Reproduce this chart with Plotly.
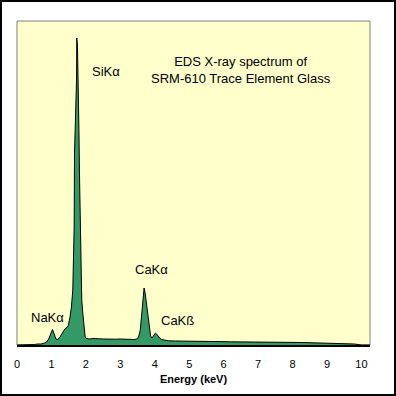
import plotly.graph_objects as go

# Energy (keV) and counts
energy = [0.00, 0.45, 0.50, 0.60, 0.70, 0.80, 0.86, 0.92, 0.98, 1.03, 1.08, 1.13, 1.18, 1.24,
          1.30, 1.36, 1.40, 1.45, 1.49, 1.54, 1.58, 1.62, 1.64, 1.66, 1.67, 1.70, 1.71, 1.73,
          1.735, 1.755, 1.765, 1.78, 1.80, 1.815, 1.83, 1.845, 1.86, 1.88, 1.91, 1.94, 1.98,
          2.02, 2.10, 2.20, 2.30, 2.40, 2.50, 2.60, 2.70, 2.80, 2.90, 3.00, 3.10, 3.20, 3.30,
          3.40, 3.48, 3.53, 3.58, 3.62, 3.66, 3.69, 3.72, 3.75, 3.77, 3.80, 3.84, 3.88, 3.92,
          3.97, 4.02, 4.05, 4.10, 4.14, 4.20, 4.25, 4.40, 4.60, 4.80, 5.00, 5.30, 5.60, 5.90,
          6.20, 6.50, 6.80, 7.10, 7.40, 7.70, 8.00, 8.30, 8.60, 8.90, 9.20, 9.50, 9.80, 10.0, 10.25]
counts = [0, 0, 5, 10, 10, 20, 30, 60, 120, 155, 110, 60, 55, 75,
          110, 150, 165, 175, 195, 280, 380, 550, 800, 1180, 1920, 2350, 2670, 2670,
          3070, 3000, 2820, 2600, 2110, 1700, 1330, 950, 650, 450, 320, 180, 80,
          65, 60, 65, 60, 62, 60, 58, 62, 60, 58, 60, 57, 58, 55,
          55, 60, 80, 150, 280, 450, 570, 520, 430, 380, 270, 150, 90, 70,
          90, 120, 110, 80, 70, 55, 50, 42, 40, 38, 36, 36, 34, 34,
          32, 32, 30, 30, 28, 28, 26, 25, 22, 20, 18, 15, 10, 0, 0]

tick_vals = list(range(0, 11))
tick_text = [str(v) for v in tick_vals]

labels = ["SiKα", "NaKα", "CaKα", "CaKß"]
label_x = [2.58, 0.89, 3.90, 4.65]
label_y = [2740, 280, 760, 250]

FONT = "Arial, Liberation Sans, sans-serif"

fig = go.Figure()
fig.add_trace(go.Scatter(
    x=energy, y=counts, mode="lines", fill="tozeroy",
    fillcolor="#339966", line=dict(color="black", width=1),
    hoverinfo="skip", showlegend=False))

for t, x, y in zip(labels, label_x, label_y):
    fig.add_annotation(x=x, y=y, text=t, showarrow=False,
                       font=dict(family=FONT, size=13, color="black"))

fig.add_annotation(x=0.634, y=0.905, xref="paper", yref="paper",
                   text="EDS X-ray spectrum of<br>SRM-610 Trace Element Glass",
                   showarrow=False, align="center",
                   font=dict(family=FONT, size=13, color="black"))

W, H = 396, 396
ml, mr, mt, mb = 17, 26, 21, 51
pw, ph = W - ml - mr, H - mt - mb

# plot-area border (gray)
fig.add_shape(type="rect", xref="paper", yref="paper", x0=0, x1=1, y0=0, y1=1,
              line=dict(color="#808080", width=1), layer="below")
# outer image border (black)
fig.add_shape(type="rect", xref="paper", yref="paper",
              x0=(1 - ml) / pw, x1=(W - 1 - ml) / pw,
              y0=-(mb - 1) / ph, y1=1 + (mt - 1) / ph,
              line=dict(color="black", width=2))

fig.update_layout(
    width=W, height=H,
    margin=dict(l=ml, r=mr, t=mt, b=mb, pad=0),
    paper_bgcolor="white", plot_bgcolor="#FFFFCC",
    font=dict(family=FONT, color="black"),
    xaxis=dict(range=[0, 10.25], tickmode="array", tickvals=tick_vals, ticktext=tick_text,
               showgrid=False, zeroline=False, showline=True, linecolor="black", linewidth=2,
               ticks="", tickfont=dict(family=FONT, size=11, color="black"),
               ticklabelstandoff=8,
               title=dict(text="<b>Energy (keV)</b>", font=dict(family=FONT, size=11, color="black"),
                          standoff=6)),
    yaxis=dict(range=[0, 3240], showgrid=False, zeroline=False, showticklabels=False,
               showline=False, ticks=""),
)

fig.write_html("out.html", config={"displayModeBar": False},
               post_script="document.body.style.margin='0';document.body.style.overflow='hidden';")
